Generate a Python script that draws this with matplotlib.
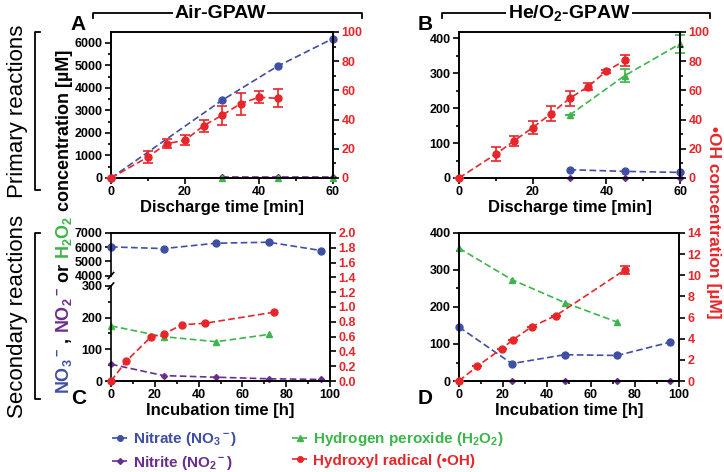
import numpy as np
import matplotlib.pyplot as plt
import matplotlib.transforms as mtransforms
from matplotlib.lines import Line2D
from matplotlib.ticker import MultipleLocator, FormatStrFormatter

plt.rcParams['font.family'] = ['Liberation Sans', 'DejaVu Sans']
plt.rcParams['font.weight'] = 'bold'
plt.rcParams['axes.labelweight'] = 'bold'
plt.rcParams['mathtext.fontset'] = 'custom'
plt.rcParams['mathtext.rm'] = 'Liberation Sans:bold'
plt.rcParams['mathtext.bf'] = 'Liberation Sans:bold'
plt.rcParams['mathtext.it'] = 'Liberation Sans:bold'
plt.rcParams['mathtext.default'] = 'bf'
plt.rcParams['axes.linewidth'] = 1.2

BLUE = '#3f4fa3'
PURPLE = '#6b2d8f'
GREEN = '#3cb54a'
RED = '#e6262a'

# ---- Panel A: Air-GPAW, primary reactions ----
a_t_no3 = [0, 30, 45, 60]
a_no3 = [0, 3450, 4960, 6190]
a_t_no2 = [30, 45, 60]
a_no2 = [25, 25, 25]
a_t_h2o2 = [30, 45, 60]
a_h2o2 = [10, 10, 10]
a_t_oh = [0, 10, 15, 20, 25, 30, 35, 40, 45]
a_oh = [0, 14.4, 23.5, 25.8, 35.8, 42.9, 50.9, 55.3, 54.6]
a_oh_err = [0, 4, 3, 3.5, 4, 6.3, 7.6, 4, 6.3]

# ---- Panel B: He/O2-GPAW, primary reactions ----
b_t_no3 = [30, 45, 60]
b_no3 = [23.7, 19, 16]
b_t_no2 = [30, 45, 60]
b_no2 = [0.5, 0.5, 0.5]
b_t_h2o2 = [30, 45, 60]
b_h2o2 = [180, 293, 384]
b_h2o2_err = [0, 19, 26]
b_t_oh = [0, 10, 15, 20, 25, 30, 35, 40, 45]
b_oh = [0, 16.4, 25.5, 34.5, 44.1, 54.5, 62.5, 73.2, 80.5]
b_oh_err = [0, 4.5, 3.4, 4.5, 5, 5.2, 2.5, 1, 3.7]

# ---- Panel C: Air-GPAW, secondary reactions ----
c_t = [0, 24, 48, 72, 96]
c_no3 = [6020, 5900, 6280, 6350, 5760]
c_no2 = [53, 17, 12, 7, 5]
c_t_h2o2 = [0, 24, 48, 72]
c_h2o2 = [174, 140, 124, 147]
c_t_oh = [0, 7, 18.4, 24, 32.2, 42.9, 74.5]
c_oh = [0, 0.27, 0.60, 0.63, 0.76, 0.78, 0.93]

# ---- Panel D: He/O2-GPAW, secondary reactions ----
d_t = [0, 24, 48, 72, 96]
d_no3 = [146, 47, 71, 69, 105]
d_no2 = [1, 1, 1, 1, 1]
d_t_h2o2 = [0, 24, 48, 72]
d_h2o2 = [359, 274, 212, 159]
d_t_oh = [0, 8.3, 19.4, 24.7, 33, 44, 75.3]
d_oh = [0, 1.4, 3.06, 3.92, 5.13, 6.18, 10.5]
d_oh_err = [0, 0, 0, 0, 0, 0, 0.4]

W, H = 724, 472
fig = plt.figure(figsize=(W / 100, H / 100), dpi=100)


def px_axes(l, t, r, b):
    return fig.add_axes([l / W, 1 - b / H, (r - l) / W, (b - t) / H])


def fx(x):
    return x / W


def fy(y):
    return 1 - y / H


def style(ax, tw):
    for a in (ax, tw):
        a.tick_params(which='both', direction='out', width=1.2, labelsize=9, pad=2)
        a.tick_params(which='major', length=4)
        a.tick_params(which='minor', length=2.5)
    tw.tick_params(axis='y', labelcolor=RED)


def dash(ax, x, y, color, marker, ms=5, **kw):
    ax.plot(x, y, ls='--', color=color, marker=marker, ms=ms, lw=1.2,
            dashes=(4, 2), clip_on=False, **kw)


def oh(ax, x, y, err=None):
    ax.errorbar(x, y, yerr=err, fmt='o', color=RED, ms=5, capsize=3.5,
                elinewidth=1.2, capthick=1.2, clip_on=False, zorder=3)
    ax.plot(x, y, ls='--', color=RED, lw=1.2, dashes=(4, 2), zorder=2)


# Panel A
axA = px_axes(111, 32, 333, 178)
twA = axA.twinx()
dash(axA, a_t_no3, a_no3, BLUE, 'o')
dash(axA, a_t_no2, a_no2, PURPLE, 'D', ms=3)
dash(axA, a_t_h2o2, a_h2o2, GREEN, '^', ms=4)
oh(twA, a_t_oh, a_oh, a_oh_err)
axA.set_xlim(0, 60)
axA.set_ylim(0, 6480)
axA.set_xticks([0, 20, 40, 60])
axA.xaxis.set_minor_locator(MultipleLocator(10))
axA.set_yticks(range(0, 6001, 1000))
axA.yaxis.set_minor_locator(MultipleLocator(500))
twA.set_ylim(0, 100)
twA.set_yticks(range(0, 101, 20))
twA.yaxis.set_minor_locator(MultipleLocator(10))
style(axA, twA)
axA.set_xlabel('Discharge time [min]', fontsize=12, labelpad=1)

# Panel B
axB = px_axes(459, 32, 680, 178)
twB = axB.twinx()
dash(axB, b_t_no3, b_no3, BLUE, 'o')
dash(axB, b_t_no2, b_no2, PURPLE, 'D', ms=3)
axB.errorbar(b_t_h2o2, b_h2o2, yerr=b_h2o2_err, fmt='^', color=GREEN, ms=4,
             capsize=3.5, elinewidth=1.2, capthick=1.2, clip_on=False)
axB.plot(b_t_h2o2, b_h2o2, ls='--', color=GREEN, lw=1.2, dashes=(4, 2))
oh(twB, b_t_oh, b_oh, b_oh_err)
axB.set_xlim(0, 60)
axB.set_ylim(0, 418)
axB.set_xticks([0, 20, 40, 60])
axB.xaxis.set_minor_locator(MultipleLocator(10))
axB.set_yticks(range(0, 401, 100))
axB.yaxis.set_minor_locator(MultipleLocator(50))
twB.set_ylim(0, 100)
twB.set_yticks(range(0, 101, 20))
twB.yaxis.set_minor_locator(MultipleLocator(10))
style(axB, twB)
axB.set_xlabel('Discharge time [min]', fontsize=12, labelpad=1)

# Panel C with broken left axis
brk_in = [-1e5, 0, 300, 4000, 7000, 1e6]
up = 0.04474
brk_out = [-1e5, 0, 300, 333, 333 + 3000 * up, 333 + 3000 * up + (1e6 - 7000) * up]


def fwd(v):
    return np.interp(v, brk_in, brk_out)


def inv(v):
    return np.interp(v, brk_out, brk_in)


axC = px_axes(111, 233, 330, 381)
twC = axC.twinx()
axC.set_yscale('function', functions=(fwd, inv))
dash(axC, c_t, c_no3, BLUE, 'o')
dash(axC, c_t, c_no2, PURPLE, 'D', ms=3)
dash(axC, c_t_h2o2, c_h2o2, GREEN, '^', ms=4)
oh(twC, c_t_oh, c_oh)
axC.set_xlim(0, 100)
axC.set_ylim(0, 7000)
axC.set_xticks(range(0, 101, 20))
axC.xaxis.set_minor_locator(MultipleLocator(10))
axC.set_yticks([0, 100, 200, 300, 4000, 5000, 6000, 7000])
axC.set_yticks([50, 150, 250], minor=True)
twC.set_ylim(0, 2.0)
twC.set_yticks(np.arange(0, 2.01, 0.2))
twC.yaxis.set_major_formatter(FormatStrFormatter('%.1f'))
style(axC, twC)
axC.set_xlabel('Incubation time [h]', fontsize=12, labelpad=1)
# break marks on the left spine
axC.spines['left'].set_visible(False)
twC.spines['left'].set_visible(False)
lo = fwd(300) / brk_out[4]
hi = fwd(4000) / brk_out[4]
kw = dict(transform=axC.transAxes, color='black', lw=1.2, clip_on=False)
axC.plot([0, 0], [0, lo], **kw)
axC.plot([0, 0], [hi, 1], **kw)
axC.plot([-0.012, 0.012], [lo - 0.02, lo + 0.02], **kw)
axC.plot([-0.012, 0.012], [hi - 0.02, hi + 0.02], **kw)

# Panel D
axD = px_axes(459, 233, 679, 381)
twD = axD.twinx()
dash(axD, d_t, d_no3, BLUE, 'o')
dash(axD, d_t, d_no2, PURPLE, 'D', ms=3)
dash(axD, d_t_h2o2, d_h2o2, GREEN, '^', ms=4)
oh(twD, d_t_oh, d_oh, d_oh_err)
axD.set_xlim(0, 100)
axD.set_ylim(0, 400)
axD.set_xticks(range(0, 101, 20))
axD.xaxis.set_minor_locator(MultipleLocator(10))
axD.set_yticks(range(0, 401, 100))
axD.yaxis.set_minor_locator(MultipleLocator(50))
twD.set_ylim(0, 14)
twD.set_yticks(range(0, 15, 2))
style(axD, twD)
axD.set_xlabel('Incubation time [h]', fontsize=12, labelpad=1)

# panel letters
for s, x, y in [('A', 78, 25), ('B', 425, 25), ('C', 79, 398), ('D', 425, 398)]:
    fig.text(fx(x), fy(y), s, fontsize=15, fontweight='bold', ha='center', va='center')

# column headers with bracket lines
for s, x0, x1, xc in [('Air-GPAW', 93, 362, 220), ('He/O$_2$-GPAW', 442, 710, 569)]:
    fig.add_artist(Line2D([fx(x0), fx(x0), fx(x1), fx(x1)],
                          [fy(18), fy(13), fy(13), fy(18)], color='black', lw=1.3))
    fig.text(fx(xc), fy(13), s, fontsize=14, fontweight='bold', ha='center', va='center',
             bbox=dict(facecolor='white', edgecolor='none', pad=1))

# row labels with brackets
for s, y0, y1, yc in [('Primary reactions', 32, 190, 111), ('Secondary reactions', 233, 399, 316)]:
    fig.add_artist(Line2D([fx(40), fx(35), fx(35), fx(40)],
                          [fy(y0), fy(y0), fy(y1), fy(y1)], color='black', lw=1.3))
    fig.text(fx(18), fy(yc), s, fontsize=16, fontweight='normal', rotation=90,
             ha='center', va='center')

# multicoloured left axis label
pieces = [('NO$_3{}^-$', BLUE), (' , ', 'black'), ('NO$_2{}^-$', PURPLE), (' or ', 'black'),
          ('H$_2$O$_2$', GREEN), (' concentration [µM]', 'black')]
ident = mtransforms.IdentityTransform()
renderer = fig.canvas.get_renderer()
texts = []
for s, c in pieces:
    texts.append(fig.text(0, 0, s, color=c, fontsize=13, fontweight='bold', rotation=90,
                          rotation_mode='anchor', ha='left', va='baseline', transform=ident))
lens = [t.get_window_extent(renderer).height for t in texts]
y = (H - 222) - sum(lens) / 2
for t, l in zip(texts, lens):
    t.set_position((69, y))
    y += l

fig.text(fx(714), fy(222), '•OH concentration [µM]', color=RED, fontsize=12.5,
         fontweight='bold', rotation=270, ha='center', va='center')

# legend
handles = [
    Line2D([], [], ls='--', color=BLUE, marker='o', ms=4, lw=1.2),
    Line2D([], [], ls='--', color=PURPLE, marker='D', ms=3, lw=1.2),
    Line2D([], [], ls='--', color=GREEN, marker='^', ms=4, lw=1.2),
    Line2D([], [], ls='--', color=RED, marker='o', ms=4, lw=1.2),
]
labels = ['Nitrate (NO$_3{}^-$)', 'Nitrite (NO$_2{}^-$)', 'Hydrogen peroxide (H$_2$O$_2$)',
          'Hydroxyl radical (•OH)']
leg = fig.legend(handles, labels, ncol=2, loc='center left', frameon=False,
                 bbox_to_anchor=(fx(98), fy(451)), fontsize=11, handlelength=1.1,
                 handletextpad=0.3, columnspacing=3.6, labelspacing=0.35,
                 labelcolor='linecolor')
for t in leg.get_texts():
    t.set_fontweight('bold')

# make sure every tick label is bold
fig.canvas.draw()
for a in fig.axes:
    for lab in a.get_xticklabels() + a.get_yticklabels():
        lab.set_fontweight('bold')

fig.savefig('out.png', dpi=100)
